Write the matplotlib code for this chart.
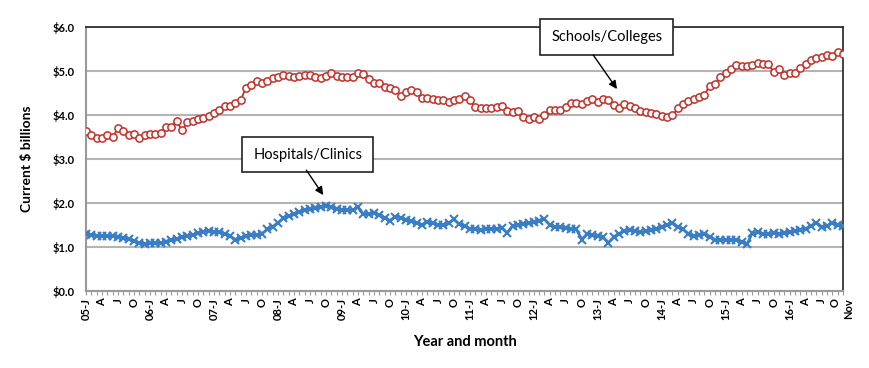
import matplotlib
matplotlib.use("Agg")
import matplotlib.pyplot as plt
import matplotlib.transforms as mtransforms

plt.rcParams['font.family'] = ['Lato', 'DejaVu Sans']

# monthly values, Jan 2005 .. Nov 2016, current $ billions
schools = [
    3.64, 3.55, 3.48, 3.48, 3.55, 3.49, 3.71, 3.64, 3.55, 3.56, 3.47, 3.54,  # 2005
    3.57, 3.57, 3.58, 3.72, 3.73, 3.86, 3.65, 3.83, 3.87, 3.90, 3.94, 3.98,  # 2006
    4.05, 4.11, 4.20, 4.21, 4.27, 4.34, 4.62, 4.68, 4.77, 4.73, 4.78, 4.83,  # 2007
    4.87, 4.90, 4.89, 4.87, 4.89, 4.92, 4.90, 4.86, 4.85, 4.88, 4.95, 4.89,  # 2008
    4.86, 4.86, 4.87, 4.95, 4.93, 4.81, 4.72, 4.72, 4.63, 4.61, 4.57, 4.44,  # 2009
    4.53, 4.57, 4.53, 4.38, 4.38, 4.36, 4.33, 4.34, 4.30, 4.34, 4.36, 4.44,  # 2010
    4.33, 4.19, 4.17, 4.17, 4.15, 4.19, 4.20, 4.08, 4.06, 4.10, 3.96, 3.90,  # 2011
    3.96, 3.92, 4.00, 4.11, 4.11, 4.11, 4.19, 4.28, 4.28, 4.26, 4.31, 4.36,  # 2012
    4.30, 4.36, 4.34, 4.23, 4.17, 4.25, 4.20, 4.15, 4.10, 4.07, 4.05, 4.02,  # 2013
    3.97, 3.95, 3.99, 4.15, 4.25, 4.31, 4.36, 4.41, 4.46, 4.67, 4.70, 4.86,  # 2014
    4.95, 5.04, 5.14, 5.11, 5.11, 5.14, 5.18, 5.16, 5.16, 4.97, 5.04, 4.90,  # 2015
    4.96, 4.95, 5.06, 5.16, 5.26, 5.29, 5.32, 5.37, 5.34, 5.44, 5.39,        # 2016
]
hospitals = [
    1.30, 1.27, 1.26, 1.25, 1.25, 1.24, 1.23, 1.21, 1.18, 1.13, 1.09, 1.07,
    1.08, 1.09, 1.10, 1.12, 1.15, 1.18, 1.22, 1.25, 1.27, 1.32, 1.35, 1.36,
    1.35, 1.33, 1.30, 1.25, 1.17, 1.20, 1.24, 1.27, 1.27, 1.30, 1.40, 1.46,
    1.55, 1.65, 1.70, 1.74, 1.80, 1.85, 1.86, 1.88, 1.92, 1.94, 1.90, 1.86,
    1.84, 1.84, 1.84, 1.91, 1.74, 1.76, 1.77, 1.72, 1.66, 1.60, 1.69, 1.67,
    1.62, 1.58, 1.55, 1.50, 1.57, 1.54, 1.51, 1.51, 1.54, 1.63, 1.52, 1.47,
    1.42, 1.40, 1.38, 1.40, 1.41, 1.41, 1.44, 1.32, 1.48, 1.50, 1.52, 1.55,
    1.57, 1.60, 1.63, 1.50, 1.46, 1.45, 1.43, 1.42, 1.40, 1.17, 1.30, 1.27,
    1.24, 1.22, 1.10, 1.22, 1.30, 1.37, 1.38, 1.36, 1.33, 1.36, 1.38, 1.40,
    1.46, 1.50, 1.54, 1.45, 1.40, 1.30, 1.25, 1.27, 1.30, 1.22, 1.17, 1.17,
    1.16, 1.16, 1.15, 1.12, 1.07, 1.32, 1.33, 1.29, 1.30, 1.31, 1.30, 1.32,
    1.34, 1.37, 1.39, 1.42, 1.47, 1.55, 1.45, 1.48, 1.55, 1.50, 1.48,
]
years = ['05', '06', '07', '08', '09', '10', '11', '12', '13', '14', '15', '16']
quarter_letters = ['J', 'A', 'J', 'O']
y_ticks = [0, 1, 2, 3, 4, 5, 6]

months = list(range(len(schools)))
tick_labels = []
for m in months:
    if m == len(schools) - 1:
        tick_labels.append('Nov')
    elif m % 3 == 0:
        q = quarter_letters[(m % 12) // 3]
        tick_labels.append(years[m // 12] + '-J' if m % 12 == 0 else q)
    else:
        tick_labels.append('')

fig = plt.figure(figsize=(8.7, 3.68), dpi=100)
ax = fig.add_axes([0.0989, 0.2092, 0.8701, 0.7174])

ax.set_axisbelow(True)
ax.grid(axis='y', color='#b4b4b4', linewidth=1.5)

ax.plot(months, schools, color='#c1302a', linewidth=1.3, marker='o', markersize=5.2,
        markerfacecolor='white', markeredgecolor='#c1302a', markeredgewidth=1.1, zorder=3)
ax.plot(months, hospitals, color='#3a7dc4', linewidth=2, marker='x', markersize=6,
        markeredgewidth=1.5, zorder=3)

ax.set_xlim(0, len(schools) - 1)
ax.set_ylim(0, 6)
ax.set_yticks(y_ticks)
ax.set_yticklabels(['${:.1f}'.format(v) for v in y_ticks], fontsize=8, fontweight='bold')
ax.set_xticks(months)
ax.set_xticklabels(tick_labels, rotation=90, fontsize=8, fontweight='bold')
ax.tick_params(axis='x', length=3, color='#999999', pad=2)
ax.tick_params(axis='y', length=0, pad=8)

# nudge the last label ("Nov") right so it clears the "O" beside it
last = ax.get_xticklabels()[-1]
last.set_transform(last.get_transform() + mtransforms.ScaledTranslation(4 / 72, 0, fig.dpi_scale_trans))
olab = ax.get_xticklabels()[-2]
olab.set_transform(olab.get_transform() + mtransforms.ScaledTranslation(-1.5 / 72, 0, fig.dpi_scale_trans))

for side in ['left', 'bottom']:
    ax.spines[side].set_color('#999999')
    ax.spines[side].set_linewidth(1.5)
for side in ['top', 'right']:
    ax.spines[side].set_color('#222222')
    ax.spines[side].set_linewidth(1.2)

ax.set_ylabel('Current $ billions', fontsize=10, fontweight='bold', labelpad=14)
ax.set_xlabel('Year and month', fontsize=10.5, fontweight='bold', labelpad=11)

box = dict(boxstyle='square,pad=0.75', facecolor='white', edgecolor='#222222', linewidth=1.2)
ax.text(0.688, 0.962, 'Schools/Colleges', transform=ax.transAxes, ha='center', va='center',
        fontsize=10.5, bbox=box, zorder=5)
ax.text(0.293, 0.517, 'Hospitals/Clinics', transform=ax.transAxes, ha='center', va='center',
        fontsize=10.5, bbox=box, zorder=5)

arrow = dict(arrowstyle='-|>', color='black', linewidth=1, mutation_scale=12, shrinkA=0, shrinkB=0)
ax.annotate('', xy=(99.6, 4.59), xycoords='data', xytext=(0.670, 0.894),
            textcoords='axes fraction', arrowprops=arrow, zorder=5)
ax.annotate('', xy=(44.5, 2.18), xycoords='data', xytext=(0.291, 0.458),
            textcoords='axes fraction', arrowprops=arrow, zorder=5)

fig.savefig('out.png', dpi=100)
